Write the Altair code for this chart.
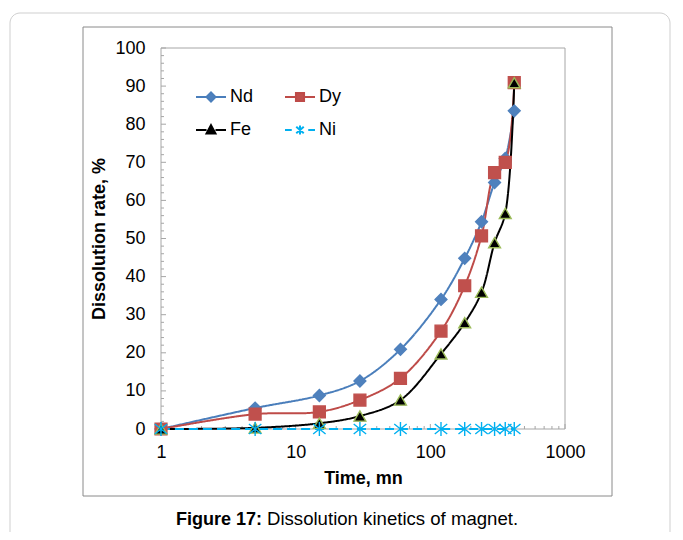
import altair as alt
import pandas as pd

# ---------------- data ----------------
times = [1, 5, 15, 30, 60, 120, 180, 240, 300, 360, 420]
nd = [0, 5.5, 8.8, 12.6, 20.9, 34.0, 44.8, 54.4, 64.7, 71.0, 83.5]
dy = [0, 3.9, 4.5, 7.6, 13.3, 25.7, 37.6, 50.7, 67.3, 70.0, 90.9]
fe = [0, 0.3, 1.5, 3.4, 7.6, 19.7, 27.9, 35.9, 48.9, 56.6, 90.9]
ni = [0, 0, 0, 0, 0, 0, 0, 0, 0, 0, 0]
series_names = ["Nd", "Dy", "Fe", "Ni"]

x_ticks = [1, 10, 100, 1000]
x_minor = [2, 3, 4, 5, 6, 7, 8, 9, 20, 30, 40, 50, 60, 70, 80, 90,
           200, 300, 400, 500, 600, 700, 800, 900]
y_ticks = [0, 10, 20, 30, 40, 50, 60, 70, 80, 90, 100]
y_minor = [2, 4, 6, 8, 12, 14, 16, 18, 22, 24, 26, 28, 32, 34, 36, 38,
           42, 44, 46, 48, 52, 54, 56, 58, 62, 64, 66, 68, 72, 74, 76, 78,
           82, 84, 86, 88, 92, 94, 96, 98]

caption_bold = "Figure 17:"
caption_rest = "Dissolution kinetics of magnet."
x_title = "Time, mn"
y_title = "Dissolution rate, %"

# ---------------- tables ----------------
rows = []
for name, vals in zip(series_names, [nd, dy, fe, ni]):
    for t, v in zip(times, vals):
        rows.append({"time": t, "rate": v, "series": name})
df = pd.DataFrame(rows)
legend_df = pd.DataFrame({"entry": series_names})

W, H = 404, 381
FONT = "Liberation Sans"

line_colors = ["#4A7EBB", "#BE4B48", "#000000", "#00B0F0"]
fill_colors = ["#4F81BD", "#C0504D", "#000000", "#00B0F0"]
stroke_colors = ["#4F81BD", "#C0504D", "#9BBB59", "#00B0F0"]
asterisk = "M0,-1.2L0,1.2M-1.05,-0.85L1.05,0.85M-1.05,0.85L1.05,-0.85"
shapes = ["diamond", "square", "triangle-up", asterisk]

leg_paths = [
    "M-1,0L-0.3,0M0.3,0L1,0M-0.3,0L0,-0.3L0.3,0L0,0.3Z",
    "M-1,0L-0.27,0M0.27,0L1,0M-0.27,-0.27L0.27,-0.27L0.27,0.27L-0.27,0.27Z",
    "M-1,0L-0.3,0M0.3,0L1,0M0,-0.32L0.3,0.24L-0.3,0.24Z",
    "M-1,0L-0.55,0M0.55,0L1,0M0,-0.3L0,0.3M-0.25,-0.22L0.25,0.22M-0.25,0.22L0.25,-0.22",
]

legend = alt.Legend(
    title=None, orient="none", legendX=34, legendY=33, columns=2,
    direction="horizontal",
    symbolSize=900, symbolStrokeWidth=2, labelFont=FONT, labelFontSize=18,
    labelColor="black", labelOffset=3, columnPadding=27, rowPadding=8,
    padding=0,
)

x_scale = alt.Scale(type="log", domain=[1, 1000], nice=False)
y_scale = alt.Scale(domain=[0, 100], nice=False)
x_axis = alt.Axis(values=x_ticks, format="d", labelFont=FONT, labelFontSize=18,
                  labelColor="black", labelPadding=14, labelFlush=False,
                  ticks=False, tickSize=0,
                  domain=False, grid=False, title=x_title, titleFont=FONT,
                  titleFontSize=18, titleFontWeight="bold", titleColor="black",
                  titlePadding=8)
y_axis = alt.Axis(values=y_ticks, labelFont=FONT, labelFontSize=18,
                  labelColor="black", labelPadding=16, labelFlush=False,
                  ticks=False, tickSize=0,
                  domain=False, grid=False, title=y_title, titleFont=FONT,
                  titleFontSize=18, titleFontWeight="bold", titleColor="black",
                  titlePadding=6)

X = alt.X("time:Q", scale=x_scale, axis=x_axis)
Y = alt.Y("rate:Q", scale=y_scale, axis=y_axis)

one = pd.DataFrame({"k": [0]})

outer_box = alt.Chart(one).mark_rect(
    fill="transparent", stroke="#CFCFCF", strokeWidth=1, cornerRadius=10
).encode(x=alt.value(-151), x2=alt.value(509), y=alt.value(-35), y2=alt.value(620))

chart_box = alt.Chart(one).mark_rect(
    fill="transparent", stroke="#8A8A8A", strokeWidth=1
).encode(x=alt.value(-78), x2=alt.value(451), y=alt.value(-21), y2=alt.value(448))

frame = alt.Chart(one).mark_rect(
    fill="transparent", stroke="#A6A6A6", strokeWidth=1
).encode(x=alt.value(0), x2=alt.value(W), y=alt.value(0), y2=alt.value(H))

ymaj = alt.Chart(pd.DataFrame({"rate": y_ticks})).mark_rule(
    color="#A6A6A6", strokeWidth=1).encode(y=Y, x=alt.value(0), x2=alt.value(5))
ymin = alt.Chart(pd.DataFrame({"rate": y_minor})).mark_rule(
    color="#A6A6A6", strokeWidth=1).encode(y=Y, x=alt.value(0), x2=alt.value(3))
xmaj = alt.Chart(pd.DataFrame({"time": x_ticks})).mark_rule(
    color="#A6A6A6", strokeWidth=1).encode(x=X, y=alt.value(H - 5), y2=alt.value(H))
xmin = alt.Chart(pd.DataFrame({"time": x_minor})).mark_rule(
    color="#A6A6A6", strokeWidth=1).encode(x=X, y=alt.value(H - 3), y2=alt.value(H))

lines = alt.Chart(df).mark_line(interpolate="catmull-rom", strokeWidth=2).encode(
    x=X, y=Y,
    color=alt.Color("series:N", scale=alt.Scale(domain=series_names, range=line_colors), legend=None),
    strokeDash=alt.StrokeDash("series:N", scale=alt.Scale(
        domain=series_names, range=[[1, 0], [1, 0], [1, 0], [9, 5]]), legend=None),
)

points = alt.Chart(df).mark_point(size=140, opacity=1, strokeWidth=1.4).encode(
    x=X, y=Y,
    shape=alt.Shape("series:N", scale=alt.Scale(domain=series_names, range=shapes), legend=None),
    fill=alt.Fill("series:N", scale=alt.Scale(domain=series_names, range=fill_colors), legend=None),
    stroke=alt.Stroke("series:N", scale=alt.Scale(domain=series_names, range=stroke_colors), legend=None),
)

# legend-only layer: its marks are filtered away, its scales carry the legend
legend_layer = alt.Chart(legend_df).mark_point(size=900, opacity=1, strokeWidth=2).encode(
    x=alt.value(0), y=alt.value(0),
    shape=alt.Shape("entry:N", scale=alt.Scale(domain=series_names, range=leg_paths), legend=legend),
    fill=alt.Fill("entry:N", scale=alt.Scale(domain=series_names, range=fill_colors), legend=legend),
    stroke=alt.Stroke("entry:N", scale=alt.Scale(domain=series_names, range=line_colors), legend=legend),
).transform_filter("false")

cap1 = alt.Chart(one).mark_text(
    text=caption_bold, font=FONT, fontSize=18, fontWeight="bold", align="right",
    baseline="alphabetic", color="black"
).encode(x=alt.value(101), y=alt.value(477))
cap2 = alt.Chart(one).mark_text(
    text=caption_rest, font=FONT, fontSize=18.6, align="left",
    baseline="alphabetic", color="black"
).encode(x=alt.value(106), y=alt.value(477))

chart = alt.layer(
    outer_box, chart_box, frame, ymaj, ymin, xmaj, xmin, lines, points,
    legend_layer, cap1, cap2
).resolve_scale(
    shape="independent", fill="independent", stroke="independent"
).properties(
    width=W, height=H,
    autosize=alt.AutoSizeParams(type="none"),
    padding={"left": 153, "top": 40, "right": 108, "bottom": 103},
).configure_view(
    stroke=None
)

chart.save("out.html", embed_options={"renderer": "svg", "actions": False})
